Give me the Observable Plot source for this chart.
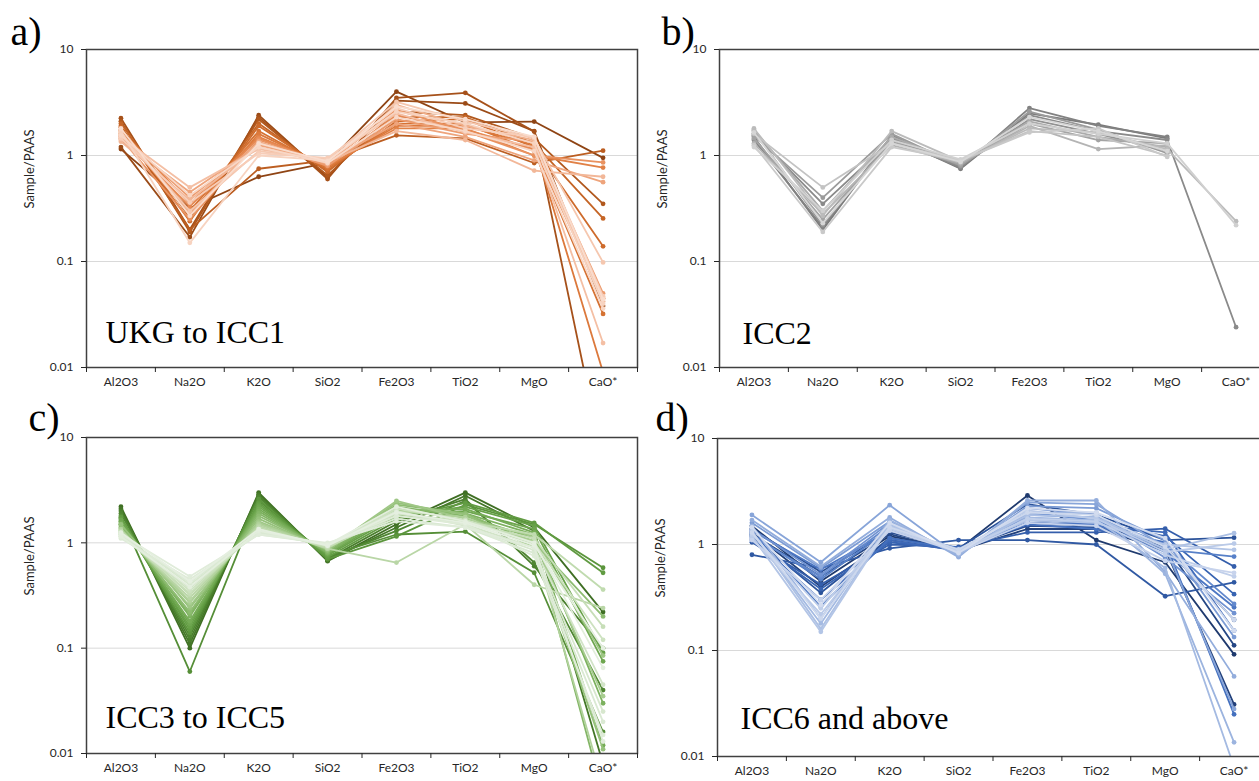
<!DOCTYPE html>
<html><head><meta charset="utf-8">
<script src="https://cdn.jsdelivr.net/npm/d3@7"></script>
<script src="https://cdn.jsdelivr.net/npm/@observablehq/plot@0.6"></script>
<style>
html,body{margin:0;padding:0;background:#fff;width:1259px;height:781px;overflow:hidden;position:relative;}
.panel{position:absolute;width:640px;}
.panel svg{overflow:visible;max-width:none !important;}
</style></head><body>
<div id="pa" class="panel" style="left:0px;top:0px"></div>
<div id="pb" class="panel" style="left:633px;top:0px"></div>
<div id="pc" class="panel" style="left:0px;top:388px"></div>
<div id="pd" class="panel" style="left:631px;top:389px"></div>
<script>
const categories = ["Al2O3","Na2O","K2O","SiO2","Fe2O3","TiO2","MgO","CaO*"];
const yTicks = [0.01, 0.1, 1, 10];
const yTickLabels = ["0.01","0.1","1","10"];
const panelLetters = ["a)","b)","c)","d)"];
const panelTitles = ["UKG to ICC1","ICC2","ICC3 to ICC5","ICC6 and above"];
const yTitle = "Sample/PAAS";

// values per sample: Al2O3, Na2O, K2O, SiO2, Fe2O3, TiO2, MgO, CaO*
const ukgToIcc1 = [
 [1.15, 0.32, 0.63, 0.85, 4.0, 2.05, 2.09, 0.95],
 [1.2, 0.17, 2.4, 0.62, 3.3, 3.1, 1.7, 0.038],
 [2.25, 0.2, 2.3, 0.6, 3.5, 3.9, 1.68, 0.0013],
 [2.1, 0.19, 2.2, 0.65, 2.6, 2.4, 1.45, 0.35],
 [1.9, 0.2, 0.75, 0.9, 1.55, 1.45, 0.85, 1.11],
 [2.0, 0.26, 2.0, 0.7, 2.3, 2.3, 1.3, 0.255],
 [1.85, 0.24, 1.9, 0.72, 2.1, 2.2, 1.2, 0.139],
 [1.7, 0.3, 1.7, 0.75, 2.0, 2.0, 1.1, 0.032],
 [1.6, 0.28, 1.6, 0.78, 1.9, 1.9, 1.25, 0.009],
 [1.75, 0.35, 1.5, 0.8, 1.8, 1.8, 1.0, 0.77],
 [1.5, 0.33, 1.45, 0.82, 2.4, 1.75, 1.15, 0.045],
 [1.45, 0.25, 1.4, 0.85, 2.7, 1.7, 1.0, 0.86],
 [1.55, 0.4, 1.3, 0.8, 2.2, 1.6, 1.35, 0.05],
 [1.4, 0.45, 1.25, 0.88, 2.0, 1.5, 0.9, 0.56],
 [1.65, 0.28, 1.35, 0.83, 3.0, 1.9, 1.4, 0.042],
 [1.35, 0.38, 1.2, 0.87, 1.7, 1.4, 0.72, 0.63],
 [1.5, 0.5, 1.15, 0.9, 2.5, 1.65, 1.2, 0.017],
 [1.6, 0.3, 1.1, 0.92, 3.2, 2.1, 1.45, 0.098],
 [1.45, 0.36, 1.05, 0.95, 2.8, 1.8, 1.5, 0.047],
 [1.7, 0.15, 1.0, 0.9, 2.6, 2.0, 1.3, 0.04],
 [1.55, 0.42, 1.2, 0.85, 2.3, 1.7, 1.1, 0.036],
 [1.8, 0.27, 1.3, 0.88, 2.9, 2.2, 1.5, 0.044]
];
const icc2 = [
 [1.5, 0.2, 1.5, 0.75, 2.5, 1.95, 1.45, null],
 [1.4, 0.21, 1.55, 0.76, 2.8, 1.9, 1.5, null],
 [1.6, 0.35, 1.4, 0.78, 2.4, 1.7, 1.4, 0.024],
 [1.7, 0.22, 1.45, 0.8, 2.2, 1.6, 1.1, null],
 [1.55, 0.4, 1.6, 0.8, 2.6, 1.75, 1.05, null],
 [1.45, 0.25, 1.35, 0.82, 2.0, 1.4, 1.3, null],
 [1.75, 0.3, 1.5, 0.85, 2.1, 1.5, 1.2, null],
 [1.3, 0.28, 1.25, 0.85, 1.9, 1.15, 1.25, null],
 [1.8, 0.27, 1.7, 0.88, 1.8, 1.65, 1.15, 0.24],
 [1.6, 0.5, 1.3, 0.9, 1.7, 1.5, 1.0, null],
 [1.25, 0.19, 1.2, 0.9, 1.65, 1.8, 0.97, null],
 [1.2, 0.3, 1.4, 0.92, 2.0, 1.6, 1.3, 0.22],
 [1.65, 0.23, 1.3, 0.87, 2.3, 1.7, 1.1, null]
];
const icc3to5 = [
 [2.2, 0.1, 3.0, 0.67, 1.5, 3.0, 1.4, 0.22],
 [2.1, 0.11, 2.9, 0.68, 1.4, 2.8, 1.3, 0.008],
 [2.0, 0.12, 2.8, 0.7, 1.6, 2.6, 0.6, 0.1],
 [1.9, 0.13, 2.7, 0.72, 1.3, 2.5, 0.65, 0.04],
 [1.8, 0.06, 2.5, 0.75, 1.2, 1.28, 0.52, 0.016],
 [1.7, 0.14, 2.6, 0.7, 1.15, 2.3, 1.5, 0.58],
 [1.75, 0.15, 2.4, 0.73, 1.7, 2.4, 1.55, 0.52],
 [1.6, 0.16, 2.3, 0.76, 1.8, 2.2, 1.45, 0.09],
 [1.65, 0.17, 2.2, 0.78, 1.9, 2.0, 1.35, 0.075],
 [1.55, 0.18, 2.1, 0.8, 2.0, 2.1, 1.25, 0.012],
 [1.5, 0.2, 2.0, 0.8, 2.1, 1.9, 1.2, 0.03],
 [1.45, 0.21, 1.9, 0.82, 2.2, 1.8, 1.1, 0.004],
 [1.4, 0.22, 1.8, 0.85, 2.3, 1.9, 1.0, 0.2],
 [1.5, 0.24, 1.7, 0.85, 2.4, 1.85, 0.9, 0.011],
 [1.35, 0.25, 1.6, 0.87, 2.5, 1.7, 1.15, 0.085],
 [1.3, 0.27, 1.55, 0.88, 2.2, 1.6, 1.05, 0.035],
 [1.35, 0.28, 1.5, 0.9, 2.0, 1.75, 0.95, 0.005],
 [1.25, 0.3, 1.45, 0.88, 0.65, 1.5, 0.4, 0.24],
 [1.3, 0.32, 1.4, 0.9, 1.9, 1.6, 1.2, 0.36],
 [1.2, 0.33, 1.35, 0.92, 1.8, 1.55, 1.1, 0.16],
 [1.25, 0.35, 1.3, 0.93, 2.1, 1.65, 1.0, 0.12],
 [1.15, 0.37, 1.3, 0.95, 1.9, 1.5, 0.9, 0.045],
 [1.2, 0.4, 1.25, 0.95, 2.0, 1.45, 0.85, 0.025],
 [1.15, 0.42, 1.25, 0.97, 1.7, 1.4, 0.8, 0.02],
 [1.1, 0.45, 1.2, 0.98, 1.8, 1.5, 0.75, 0.015],
 [1.2, 0.48, 1.2, 1.0, 1.6, 1.4, 0.9, 0.013],
 [1.15, 0.38, 1.3, 0.96, 2.2, 1.6, 1.0, 0.065],
 [1.25, 0.43, 1.35, 0.94, 1.95, 1.55, 0.95, 0.1]
];
const icc6plus = [
 [1.5, 0.45, 1.2, 0.9, 2.9, 1.1, 0.68, 0.092],
 [1.3, 0.4, 1.1, 0.88, 1.4, 1.4, 0.9, 0.031],
 [1.25, 0.5, 1.25, 0.85, 1.6, 1.5, 1.0, 0.112],
 [1.4, 0.55, 1.3, 0.9, 1.5, 1.45, 0.95, 0.195],
 [1.2, 0.35, 1.15, 0.92, 2.4, 1.9, 1.1, 1.16],
 [0.8, 0.6, 0.92, 1.1, 1.1, 1.0, 0.325, 0.44],
 [1.05, 0.42, 1.0, 0.95, 1.3, 1.3, 1.41, 0.62],
 [1.1, 0.38, 1.05, 0.9, 1.7, 1.6, 1.2, 0.34],
 [1.15, 0.3, 1.1, 0.87, 1.8, 1.5, 1.3, 0.154],
 [1.3, 0.26, 1.15, 0.9, 1.55, 1.4, 1.05, 0.025],
 [1.35, 0.58, 1.35, 0.92, 1.6, 1.55, 0.85, 0.256],
 [1.25, 0.47, 1.4, 0.88, 2.0, 1.7, 0.9, 0.77],
 [1.2, 0.5, 1.5, 0.85, 1.9, 1.8, 1.0, 0.275],
 [1.4, 0.52, 1.6, 0.82, 2.2, 1.9, 0.75, 0.225],
 [1.6, 0.6, 1.65, 0.8, 2.3, 2.2, 1.1, 0.134],
 [1.9, 0.68, 2.35, 0.78, 2.5, 2.4, 0.95, 0.028],
 [1.7, 0.62, 1.8, 0.76, 2.6, 2.6, 0.55, 0.057],
 [1.5, 0.2, 1.7, 0.8, 2.0, 2.0, 0.53, 0.0136],
 [1.3, 0.18, 1.6, 0.82, 1.8, 1.7, 0.6, 0.008],
 [1.35, 0.16, 1.55, 0.84, 1.9, 1.8, 0.9, 1.28],
 [1.2, 0.15, 1.5, 0.86, 1.7, 1.6, 1.0, 0.89],
 [1.15, 0.22, 1.45, 0.88, 2.1, 1.75, 0.85, 1.02],
 [1.25, 0.25, 1.4, 0.87, 1.75, 1.65, 0.8, 0.5],
 [1.1, 0.3, 1.35, 0.85, 1.6, 1.5, 0.7, 0.54],
 [1.3, 0.2, 1.45, 0.9, 2.0, 1.9, 0.95, 0.195],
 [1.45, 0.27, 1.6, 0.83, 2.2, 2.0, 1.15, 0.154]
];

const palettes = [
 ["#8f4414", "#c0601f", "#e27a3a", "#eea077", "#f6c9b2", "#f9dccd"],
 ["#7a7a7a", "#9a9a9a", "#bdbdbd", "#d6d6d6"],
 ["#3f6f24", "#5c9a3c", "#80b461", "#b5d5a0", "#d9e8d1", "#e5efe0"],
 ["#1f3a6e", "#2f5aa8", "#4472c4", "#8ea9db", "#b4c6e7", "#d3dcef"]
];

const serif = "'Liberation Serif', 'Times New Roman', serif";

function makePanel(series, idx, cfg) {
  const n = series.length;
  const interp = d3.interpolateRgbBasis(palettes[idx]);
  const marks = [Plot.gridY([0.1, 1], {stroke: "#d9d9d9", strokeOpacity: 1, strokeWidth: 1})];
  series.forEach((vals, s) => {
    const c = interp(n === 1 ? 0 : s / (n - 1));
    const rows = vals.map((v, i) => ({x: i + 0.5, v}));
    marks.push(Plot.line(rows, {x: "x", y: "v", stroke: c, strokeWidth: 1.8, clip: true}));
    marks.push(Plot.dot(rows.filter(d => d.v != null), {x: "x", y: "v", fill: c, r: 2.4, clip: true}));
  });
  marks.push(
    Plot.frame({stroke: "#404040", strokeWidth: 1.5}),
    Plot.axisY(yTicks, {tickSize: 5, tickPadding: 8, tickFormat: d => yTickLabels[yTicks.indexOf(d)], label: null, fontSize: 12}),
    Plot.axisX(d3.range(9), {tickSize: 5, tickFormat: () => "", label: null}),
    Plot.axisX(d3.range(8).map(i => i + 0.5), {tickSize: 0, tickPadding: 10, tickFormat: d => categories[Math.floor(d)], label: null, fontSize: 12}),
    Plot.text([yTitle], {frameAnchor: "left", dx: -57, rotate: -90, fontSize: 13, fill: "#262626"}),
    Plot.text([panelTitles[idx]], {frameAnchor: "bottom-left", dx: cfg.tdx, dy: cfg.tdy, lineAnchor: "bottom", textAnchor: "start", fontSize: 32, fontFamily: serif, fill: "#000"}),
    Plot.text([panelLetters[idx]], {frameAnchor: "top-left", dx: cfg.ldx, dy: cfg.ldy, lineAnchor: "bottom", textAnchor: "start", fontSize: 40, fontFamily: serif, fill: "#000"})
  );
  return Plot.plot({
    width: 640,
    height: 49 + cfg.plotH + 28,
    marginTop: 49, marginLeft: 86, marginRight: 3, marginBottom: 28,
    style: {fontFamily: "Lato, 'Open Sans', sans-serif", fontSize: "12px", color: "#262626", background: "transparent", overflow: "visible", maxWidth: "none"},
    x: {domain: [0, 8], axis: null},
    y: {type: "log", domain: [0.01, 10], axis: null},
    marks
  });
}

document.getElementById("pa").append(makePanel(ukgToIcc1, 0, {plotH: 318, tdx: 19, tdy: -25, ldx: -76, ldy: -5}));
document.getElementById("pb").append(makePanel(icc2, 1, {plotH: 318, tdx: 23, tdy: -24, ldx: -58, ldy: -5}));
document.getElementById("pc").append(makePanel(icc3to5, 2, {plotH: 316, tdx: 19, tdy: -26, ldx: -58, ldy: -7}));
document.getElementById("pd").append(makePanel(icc6plus, 3, {plotH: 318, tdx: 23, tdy: -28, ldx: -62, ldy: -8}));
</script>
</body></html>
